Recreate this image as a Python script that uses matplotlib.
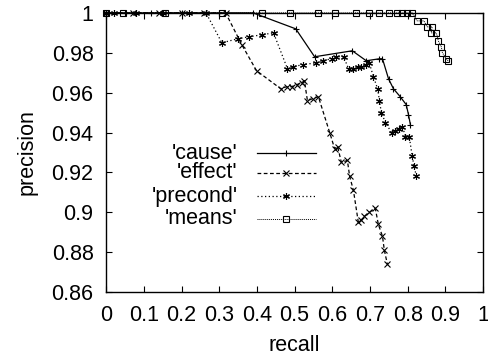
import matplotlib
matplotlib.use("Agg")
import matplotlib.pyplot as plt
from matplotlib.lines import Line2D

plt.rcParams['font.family'] = ['Liberation Sans', 'DejaVu Sans']

# recall / precision curves
cause_recall = [0.0, 0.05, 0.12, 0.2, 0.3, 0.39, 0.503, 0.553, 0.653, 0.690, 0.725, 0.733,
                0.749, 0.762, 0.780, 0.796, 0.802, 0.807]
cause_prec = [1.0, 1.0, 1.0, 1.0, 1.0, 1.0, 0.992, 0.978, 0.981, 0.976, 0.977, 0.977,
              0.967, 0.962, 0.958, 0.954, 0.949, 0.944]

effect_recall = [0.0, 0.07, 0.14, 0.2, 0.26, 0.317, 0.360, 0.399, 0.463, 0.479, 0.492, 0.505,
                 0.519, 0.526, 0.534, 0.548, 0.563, 0.593, 0.606, 0.614, 0.624, 0.640, 0.646,
                 0.656, 0.669, 0.677, 0.685, 0.698, 0.714, 0.722, 0.733, 0.738, 0.746]
effect_prec = [1.0, 1.0, 1.0, 1.0, 1.0, 1.0, 0.984, 0.971, 0.962, 0.963, 0.963, 0.964,
               0.965, 0.966, 0.956, 0.957, 0.958, 0.940, 0.932, 0.933, 0.925, 0.926, 0.918,
               0.911, 0.895, 0.896, 0.898, 0.900, 0.902, 0.894, 0.888, 0.881, 0.874]

precond_recall = [0.0, 0.02, 0.08, 0.15, 0.22, 0.265, 0.307, 0.349, 0.378, 0.413, 0.444,
                  0.481, 0.495, 0.521, 0.558, 0.574, 0.598, 0.611, 0.630, 0.643, 0.656, 0.667,
                  0.677, 0.688, 0.698, 0.709, 0.720, 0.725, 0.730, 0.741, 0.757, 0.767, 0.778,
                  0.786, 0.794, 0.804, 0.812, 0.817, 0.823]
precond_prec = [1.0, 1.0, 1.0, 1.0, 1.0, 1.0, 0.985, 0.987, 0.988, 0.989, 0.990,
                0.972, 0.973, 0.974, 0.975, 0.976, 0.977, 0.978, 0.978, 0.972, 0.972, 0.973,
                0.973, 0.974, 0.975, 0.968, 0.962, 0.956, 0.950, 0.945, 0.940, 0.941, 0.942,
                0.943, 0.938, 0.938, 0.928, 0.923, 0.918]

means_recall = [0.0, 0.045, 0.156, 0.307, 0.413, 0.487, 0.563, 0.608, 0.664, 0.696, 0.725,
                0.749, 0.772, 0.786, 0.799, 0.812, 0.825, 0.843, 0.852, 0.865, 0.862, 0.876,
                0.881, 0.889, 0.892, 0.902, 0.907]
means_prec = [1.0, 1.0, 1.0, 1.0, 1.0, 1.0, 1.0, 1.0, 1.0, 1.0, 1.0,
              1.0, 1.0, 1.0, 1.0, 1.0, 0.996, 0.996, 0.993, 0.993, 0.990, 0.990,
              0.986, 0.983, 0.980, 0.977, 0.976]

labels = ["'cause'", "'effect'", "'precond'", "'means'"]

fig = plt.figure(figsize=(4.89, 3.58), dpi=100)
ax = fig.add_axes([0.217, 0.184, 0.771, 0.78])

asterisk = (6, 2, 0)
styles = [
    dict(ls='-', marker='+', lw=0.9, ms=5),
    dict(ls=(0, (3, 2)), marker='x', lw=0.9, ms=4.5),
    dict(ls=(0, (1, 2)), marker=asterisk, lw=0.9, ms=5),
    dict(ls=(0, (1, 1)), marker='s', lw=0.7, ms=4, mfc='none'),
]
series = [(cause_recall, cause_prec), (effect_recall, effect_prec),
          (precond_recall, precond_prec), (means_recall, means_prec)]

for (rx, py), st in zip(series, styles):
    ax.plot(rx, py, color='black', mew=0.8, clip_on=False, **st)

# gnuplot-style key: right-aligned text, sample line to its right
key_y = [0.498, 0.427, 0.344, 0.262]
for lab, st, yk in zip(labels, styles, key_y):
    ax.text(0.349, yk, lab, transform=ax.transAxes, ha='right', va='center', fontsize=15.5)
    ax.add_line(Line2D([0.40, 0.556], [yk, yk], transform=ax.transAxes, color='black',
                       ls=st['ls'], lw=st['lw']))
    ax.add_line(Line2D([0.476], [yk], transform=ax.transAxes, color='black', ls='none',
                       marker=st['marker'], ms=st['ms'], mfc=st.get('mfc', 'black'), mew=0.8))

ax.set_xlim(0, 1)
ax.set_ylim(0.86, 1.0)
ax.set_xticks([0, 0.1, 0.2, 0.3, 0.4, 0.5, 0.6, 0.7, 0.8, 0.9, 1])
ax.set_xticklabels(['0', '0.1', '0.2', '0.3', '0.4', '0.5', '0.6', '0.7', '0.8', '0.9', '1'])
ax.set_yticks([0.86, 0.88, 0.9, 0.92, 0.94, 0.96, 0.98, 1.0])
ax.set_yticklabels(['0.86', '0.88', '0.9', '0.92', '0.94', '0.96', '0.98', '1'])
ax.tick_params(direction='in', top=True, right=True, length=4, width=0.8, labelsize=15.5)
ax.tick_params(axis='x', pad=9)
ax.tick_params(axis='y', pad=9)
for s in ax.spines.values():
    s.set_linewidth(1.0)

ax.set_xlabel('recall', fontsize=15.5, labelpad=7)
ax.set_ylabel('precision', fontsize=15.5, labelpad=10)

fig.savefig('out.png', dpi=100)
